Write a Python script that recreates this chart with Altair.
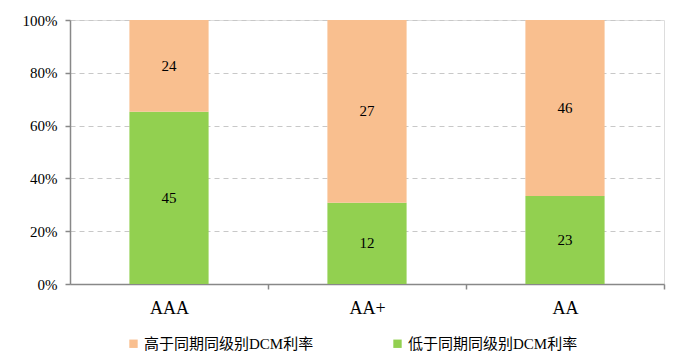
import altair as alt
import pandas as pd

categories = ["AAA", "AA+", "AA"]
series_names = ["高于同期同级别DCM利率", "低于同期同级别DCM利率"]
above_vals = [24, 27, 46]
below_vals = [45, 12, 23]
colors = ["#F9BF8F", "#92D050"]

rows = []
for i, c in enumerate(categories):
    rows.append({"cat": c, "series": series_names[1], "value": below_vals[i], "ord": 0})
    rows.append({"cat": c, "series": series_names[0], "value": above_vals[i], "ord": 1})
df = pd.DataFrame(rows)

serif = "Liberation Serif, Times New Roman, Noto Sans CJK SC"

base = alt.Chart(df).transform_stack(
    stack="value", groupby=["cat"], as_=["y0", "y1"], offset="normalize",
    sort=[alt.SortField("ord", order="ascending")]
).transform_calculate(mid="(datum.y0 + datum.y1) / 2")

xenc = alt.X("cat:N", sort=categories, title=None,
             scale=alt.Scale(paddingInner=0.6, paddingOuter=0.3),
             axis=alt.Axis(labelAngle=0, labelFont=serif, labelFontSize=18, labelColor="#000",
                           labelPadding=10, tickOffset=99, labelOffset=-99,
                           domainColor="#888", tickColor="#888",
                           tickSize=5, domainWidth=1.5, tickWidth=1.5, grid=False))

bars = base.mark_bar().encode(
    x=xenc,
    y=alt.Y("y0:Q", title=None,
            scale=alt.Scale(domain=[0, 1]),
            axis=alt.Axis(format="%", values=[0, 0.2, 0.4, 0.6, 0.8, 1.0], labelFont=serif,
                          labelFontSize=15, labelColor="#000", domainColor="#888", tickColor="#888",
                          tickSize=5, domainWidth=1.5, tickWidth=1.5, gridColor="#C8C8C8",
                          gridDash=[5, 4], labelPadding=8)),
    y2="y1:Q",
    color=alt.Color("series:N", scale=alt.Scale(domain=series_names, range=colors),
                    legend=alt.Legend(title=None, orient="none", direction="horizontal",
                                      legendX=56, legendY=316, symbolType="square", symbolSize=70,
                                      labelFont=serif, labelFontSize=15, labelColor="#000",
                                      labelLimit=400, labelOffset=3,
                                      columnPadding=76, symbolStrokeWidth=0)),
    order=alt.Order("ord:Q"),
)

text = base.mark_text(font=serif, fontSize=15, color="#000", baseline="middle").encode(
    x=alt.X("cat:N", sort=categories),
    y=alt.Y("mid:Q"),
    text="value:Q",
)

chart = alt.layer(bars, text).properties(
    width=594, height=264,
    autosize=alt.AutoSizeParams(type="none"),
    padding={"left": 62, "top": 12, "right": 28, "bottom": 78},
).configure_view(stroke=None).configure(background="white")

chart.save("out.html", embed_options={"renderer": "svg", "actions": False})
